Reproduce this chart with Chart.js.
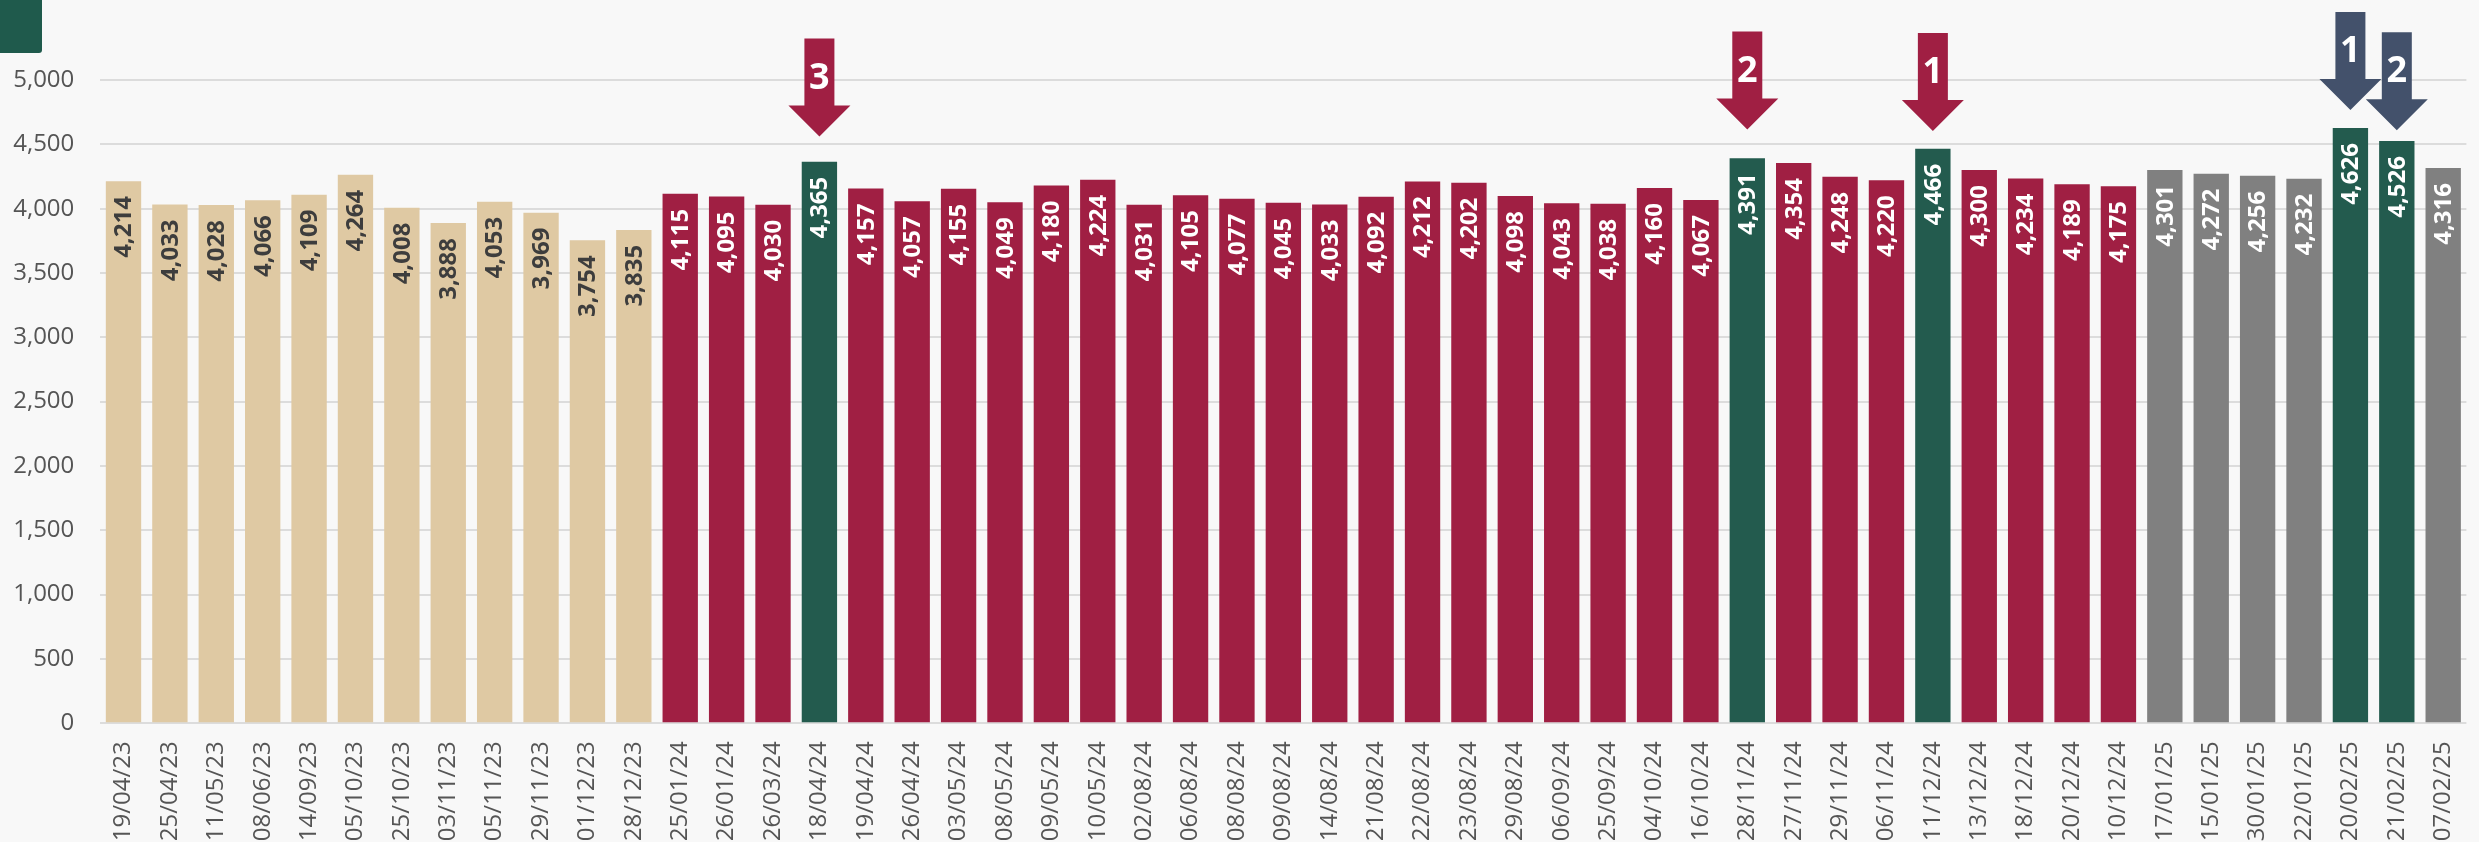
<!DOCTYPE html>
<html>
<head>
<meta charset="utf-8">
<script src="https://cdn.jsdelivr.net/npm/chart.js@4.4.1/dist/chart.umd.min.js"></script>
<style>
  html, body { margin: 0; padding: 0; background: #f8f8f8; overflow: hidden; width: 2479px; height: 842px; }
  #wrap { position: absolute; left: 0; top: 0; width: 2490px; height: 842px; }
  #tag { position: absolute; left: 0; top: 0; width: 42px; height: 53px; background: #1f5a4c; border-bottom-right-radius: 3px; z-index: 2; }
</style>
</head>
<body>
<div id="wrap"><canvas id="c"></canvas></div>
<div id="tag"></div>
<script>
// ---- data ----
const dates = [
  '19/04/23','25/04/23','11/05/23','08/06/23','14/09/23','05/10/23','25/10/23','03/11/23','05/11/23','29/11/23','01/12/23','28/12/23',
  '25/01/24','26/01/24','26/03/24','18/04/24','19/04/24','26/04/24','03/05/24','08/05/24','09/05/24','10/05/24',
  '02/08/24','06/08/24','08/08/24','09/08/24','14/08/24','21/08/24','22/08/24','23/08/24','29/08/24','06/09/24',
  '25/09/24','04/10/24','16/10/24','28/11/24','27/11/24','29/11/24','06/11/24','11/12/24','13/12/24','18/12/24',
  '20/12/24','10/12/24',
  '17/01/25','15/01/25','30/01/25','22/01/25','20/02/25','21/02/25','07/02/25'
];
const values = [
  4214,4033,4028,4066,4109,4264,4008,3888,4053,3969,3754,3835,
  4115,4095,4030,4365,4157,4057,4155,4049,4180,4224,
  4031,4105,4077,4045,4033,4092,4212,4202,4098,4043,
  4038,4160,4067,4391,4354,4248,4220,4466,4300,4234,
  4189,4175,
  4301,4272,4256,4232,4626,4526,4316
];
// period of each bar: 'p1' (2023), 'p2' (2024), 'p3' (2025)
const periods = [
  'p1','p1','p1','p1','p1','p1','p1','p1','p1','p1','p1','p1',
  'p2','p2','p2','p2','p2','p2','p2','p2','p2','p2',
  'p2','p2','p2','p2','p2','p2','p2','p2','p2','p2',
  'p2','p2','p2','p2','p2','p2','p2','p2','p2','p2',
  'p2','p2',
  'p3','p3','p3','p3','p3','p3','p3'
];
// highlighted (top-ranked) bars
const topDates = ['18/04/24','28/11/24','11/12/24','20/02/25','21/02/25'];
const topRanks = ['3','2','1','1','2'];
const arrowTips = [4560, 4616, 4603, 4766, 4610];   // y-value reached by each arrow tip
const yTicks = [0,500,1000,1500,2000,2500,3000,3500,4000,4500,5000];

// ---- styles ----
const periodColor = { p1: '#dfc9a3', p2: '#a01f43', p3: '#808080' };
const topColor = '#235b4e';
const arrowColor = { p2: '#a01f43', p3: '#43516b' };
const labelColor = { p1: '#3d3d3d', p2: '#ffffff', p3: '#ffffff' };

const barColors = dates.map((d, i) => topDates.includes(d) ? topColor : periodColor[periods[i]]);
const fmt = v => v.toLocaleString('en-US');

const barLabels = {
  id: 'barLabels',
  afterDatasetsDraw(chart) {
    const ctx = chart.ctx;
    const meta = chart.getDatasetMeta(0);
    ctx.save();
    ctx.font = 'bold 24px "Open Sans"';
    meta.data.forEach((bar, i) => {
      const top = topDates.includes(dates[i]);
      ctx.save();
      ctx.translate(bar.x + 1, bar.y + 15);
      ctx.rotate(-Math.PI / 2);
      ctx.textAlign = 'right';
      ctx.textBaseline = 'middle';
      ctx.fillStyle = top ? '#ffffff' : labelColor[periods[i]];
      ctx.fillText(fmt(values[i]), 0, 0);
      ctx.restore();
    });
    ctx.restore();
  }
};

const arrows = {
  id: 'arrows',
  afterDraw(chart) {
    const ctx = chart.ctx;
    const xs = chart.scales.x, ys = chart.scales.y;
    ctx.save();
    topDates.forEach((d, k) => {
      const i = dates.indexOf(d);
      const cx = xs.getPixelForValue(i);
      const tip = ys.getPixelForValue(arrowTips[k]);
      const headH = 31, shaftL = 67, shaftW = 30, headW = 62;
      ctx.fillStyle = arrowColor[periods[i]];
      ctx.beginPath();
      ctx.moveTo(cx - shaftW / 2, tip - headH - shaftL);
      ctx.lineTo(cx + shaftW / 2, tip - headH - shaftL);
      ctx.lineTo(cx + shaftW / 2, tip - headH);
      ctx.lineTo(cx + headW / 2, tip - headH);
      ctx.lineTo(cx, tip);
      ctx.lineTo(cx - headW / 2, tip - headH);
      ctx.lineTo(cx - shaftW / 2, tip - headH);
      ctx.closePath();
      ctx.fill();
      ctx.fillStyle = '#ffffff';
      ctx.font = 'bold 36px "Open Sans"';
      ctx.textAlign = 'center';
      ctx.textBaseline = 'middle';
      ctx.fillText(topRanks[k], cx, tip - 58);
    });
    ctx.restore();
  }
};

new Chart(document.getElementById('c'), {
  type: 'bar',
  data: {
    labels: dates,
    datasets: [{
      data: values,
      backgroundColor: barColors,
      borderWidth: 0,
      categoryPercentage: 1,
      barPercentage: 0.762
    }]
  },
  options: {
    responsive: true,
    maintainAspectRatio: false,
    animation: false,
    devicePixelRatio: 1,
    locale: 'en-US',
    layout: { padding: { top: 80, left: 0, right: 0, bottom: 0 } },
    plugins: { legend: { display: false }, tooltip: { enabled: false } },
    scales: {
      x: {
        offset: true,
        grid: { display: false, drawTicks: false },
        border: { display: false },
        ticks: {
          autoSkip: false, minRotation: 90, maxRotation: 90, padding: 18,
          color: '#555555', font: { family: 'Open Sans', size: 24 }
        },
        afterFit(s) { s.height = 118.7; }
      },
      y: {
        min: 0, max: 5000,
        afterBuildTicks(s) { s.ticks = yTicks.map(v => ({ value: v })); },
        grid: { color: '#dcdcdc', lineWidth: 2, drawTicks: false },
        border: { display: false },
        ticks: {
          padding: 26, color: '#555555', font: { family: 'Open Sans', size: 24 },
          callback: v => fmt(v)
        },
        afterFit(s) { s.width = 100.3; }
      }
    }
  },
  plugins: [barLabels, arrows]
});
</script>
</body>
</html>
